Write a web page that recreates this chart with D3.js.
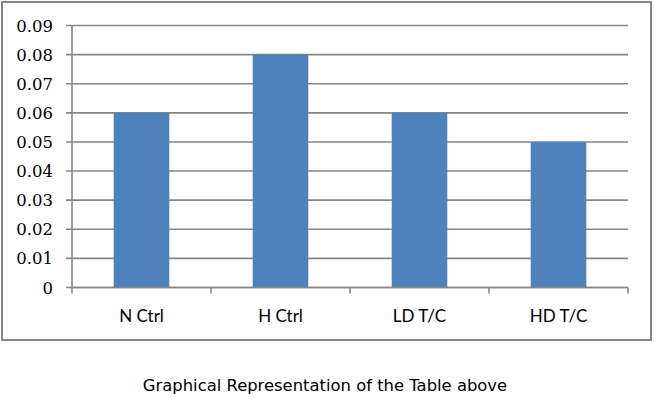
<!DOCTYPE html>
<html>
<head>
<meta charset="utf-8">
<script src="https://cdn.jsdelivr.net/npm/d3@7"></script>
<style>
html,body{margin:0;padding:0;background:#fff;}
svg{display:block;}
</style>
</head>
<body>
<svg id="chart" width="654" height="398"></svg>
<script>
const categories = ["N Ctrl", "H Ctrl", "LD T/C", "HD T/C"];
const values = [0.06, 0.08, 0.06, 0.05];
const yTicks = [0, 0.01, 0.02, 0.03, 0.04, 0.05, 0.06, 0.07, 0.08, 0.09];
const yTickLabels = ["0", "0.01", "0.02", "0.03", "0.04", "0.05", "0.06", "0.07", "0.08", "0.09"];
const caption = "Graphical Representation of the Table above";

const svg = d3.select("#chart");
const W = 654, H = 398;
const plot = {left: 72, right: 628, top: 25.5, bottom: 287.5};
const gridColor = "#868686";

svg.append("rect").attr("width", W).attr("height", H).attr("fill", "#fff");

// chart border
svg.append("rect")
  .attr("x", 2).attr("y", 2).attr("width", 649).attr("height", 338)
  .attr("fill", "none").attr("stroke", gridColor).attr("stroke-width", 2);

const x = d3.scaleBand().domain(categories).range([plot.left, plot.right]).paddingInner(0).paddingOuter(0);
const y = d3.scaleLinear().domain([0, 0.09]).range([plot.bottom, plot.top]);

// gridlines
svg.append("g").selectAll("line").data(yTicks).join("line")
  .attr("x1", plot.left - 6).attr("x2", plot.right)
  .attr("y1", d => y(d)).attr("y2", d => y(d))
  .attr("stroke", gridColor).attr("stroke-width", 1.6);

// bars
const barW = x.bandwidth() * 0.4;
svg.append("g").selectAll("rect").data(values).join("rect")
  .attr("x", (d, i) => x(categories[i]) + (x.bandwidth() - barW) / 2)
  .attr("width", barW)
  .attr("y", d => y(d))
  .attr("height", d => y(0) - y(d))
  .attr("fill", "#4F81BD");

// y axis line
svg.append("line")
  .attr("x1", plot.left).attr("x2", plot.left)
  .attr("y1", plot.top).attr("y2", plot.bottom)
  .attr("stroke", gridColor).attr("stroke-width", 1.6);

// x axis line and ticks
svg.append("line")
  .attr("x1", plot.left).attr("x2", plot.right)
  .attr("y1", y(0)).attr("y2", y(0))
  .attr("stroke", gridColor).attr("stroke-width", 1.6);
const boundaries = categories.map(c => x(c)).concat([x(categories[categories.length - 1]) + x.bandwidth()]);
svg.append("g").selectAll("line").data(boundaries).join("line")
  .attr("x1", d => d).attr("x2", d => d)
  .attr("y1", y(0)).attr("y2", y(0) + 6)
  .attr("stroke", gridColor).attr("stroke-width", 1.6);

// y tick labels
svg.append("g").selectAll("text").data(yTicks).join("text")
  .attr("x", 53).attr("y", d => y(d) + 6)
  .attr("text-anchor", "end")
  .attr("font-family", "DejaVu Serif")
  .attr("font-size", 16.5)
  .attr("fill", "#000")
  .text((d, i) => yTickLabels[i]);

// category labels
svg.append("g").selectAll("text").data(categories).join("text")
  .attr("x", d => x(d) + x.bandwidth() / 2)
  .attr("y", 322)
  .attr("text-anchor", "middle")
  .attr("font-family", "Lato")
  .attr("font-size", 17)
  .attr("fill", "#000")
  .text(d => d);

// caption
svg.append("text")
  .attr("x", 325).attr("y", 391)
  .attr("text-anchor", "middle")
  .attr("font-family", "DejaVu Sans")
  .attr("font-size", 16.4)
  .attr("fill", "#000")
  .text(caption);
</script>
</body>
</html>
